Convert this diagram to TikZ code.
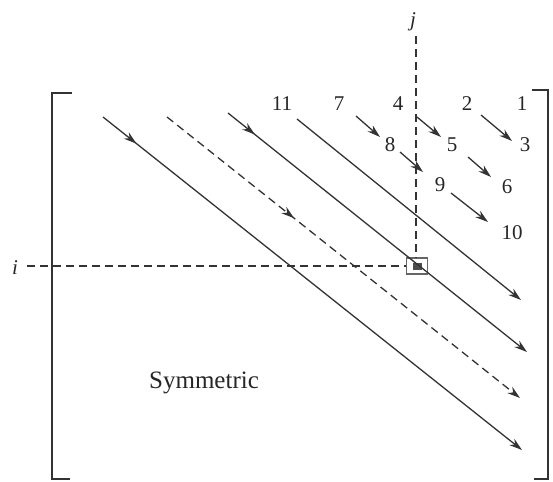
\documentclass[tikz,border=0pt]{standalone}
\usepackage{fontspec}
\setmainfont{Liberation Serif}
\usetikzlibrary{arrows.meta,decorations.markings}
\tikzset{
  ln/.style={line width=1.3pt, draw=black!80},
  tip/.style={-{Stealth[length=13pt,width=8pt]}},
  dsh/.style={dash pattern=on 8pt off 5pt},
  lbl/.style={font=\fontsize{21}{25}\selectfont, text=black!85, inner sep=0pt},
  midarrow/.style={postaction={decorate},decoration={markings,mark=at position #1 with {\arrow{Stealth[length=13pt,width=8pt]}}}},
}
\begin{document}
\begin{tikzpicture}[x=1pt,y=-1pt]
\useasboundingbox (0,0) rectangle (553,481);
% brackets
\draw[ln] (72,93) -- (52,93) -- (52,479) -- (70,479);
\draw[ln] (532,90) -- (548,90) -- (548,479) -- (534,479);
% pivot box
\node[draw=black!60, line width=1.3pt, minimum width=21pt, minimum height=16pt, inner sep=0pt] (box) at (417,266) {};
\fill[black!70] ([shift={(-4.5pt,-3.5pt)}]box.center) rectangle ([shift={(4.5pt,3.5pt)}]box.center);
% i and j lines
\node[lbl, font=\fontsize{21}{25}\selectfont\itshape] (i) at (15,268) {i};
\node[lbl, font=\fontsize{21}{25}\selectfont\itshape] (j) at (413,22) {j};
\coordinate (jtop) at (416,36);
\coordinate (ileft) at (27,266);
\draw[ln,dsh] (jtop) -- (box.north -| jtop);
\draw[ln,dsh] (ileft) -- (box.west);
% long diagonals
\coordinate (a0) at (103,117); \coordinate (a1) at (522,450);
\coordinate (b0) at (167,117); \coordinate (b1) at (520,398);
\coordinate (c0) at (228,113); \coordinate (c1) at (527,352);
\coordinate (d0) at (297,119); \coordinate (d1) at (521,300);
\draw[ln,tip,midarrow=0.08] (a0) -- (a1);
\draw[ln,tip,dsh,midarrow=0.36] (b0) -- (b1);
\draw[ln,tip,midarrow=0.09] (c0) -- (c1);
\draw[ln,tip] (d0) -- (d1);
% labels
\node[lbl] (n11) at (282,104) {11};
\node[lbl] (n7) at (339,104) {7};
\node[lbl] (n4) at (398,104) {4};
\node[lbl] (n2) at (467,104) {2};
\node[lbl] (n1) at (522,104) {1};
\node[lbl] (n8) at (390,145) {8};
\node[lbl] (n5) at (452,145) {5};
\node[lbl] (n3) at (525,145) {3};
\node[lbl] (n9) at (440,185) {9};
\node[lbl] (n6) at (507,187) {6};
\node[lbl] (n10) at (512,233) {10};
\node[lbl, font=\fontsize{25}{29}\selectfont] (sym) at (204,383) {Symmetric};
% short arrows
\coordinate (s1a) at (356,116); \coordinate (s1b) at (380,137);
\coordinate (s2a) at (417,117); \coordinate (s2b) at (441,137);
\coordinate (s3a) at (481,115); \coordinate (s3b) at (512,141);
\coordinate (s4a) at (400,152); \coordinate (s4b) at (423,172);
\coordinate (s5a) at (468,157); \coordinate (s5b) at (491,177);
\coordinate (s6a) at (451,193); \coordinate (s6b) at (488,222);
\foreach \s in {1,...,6} \draw[ln,tip] (s\s a) -- (s\s b);
\end{tikzpicture}
\end{document}
